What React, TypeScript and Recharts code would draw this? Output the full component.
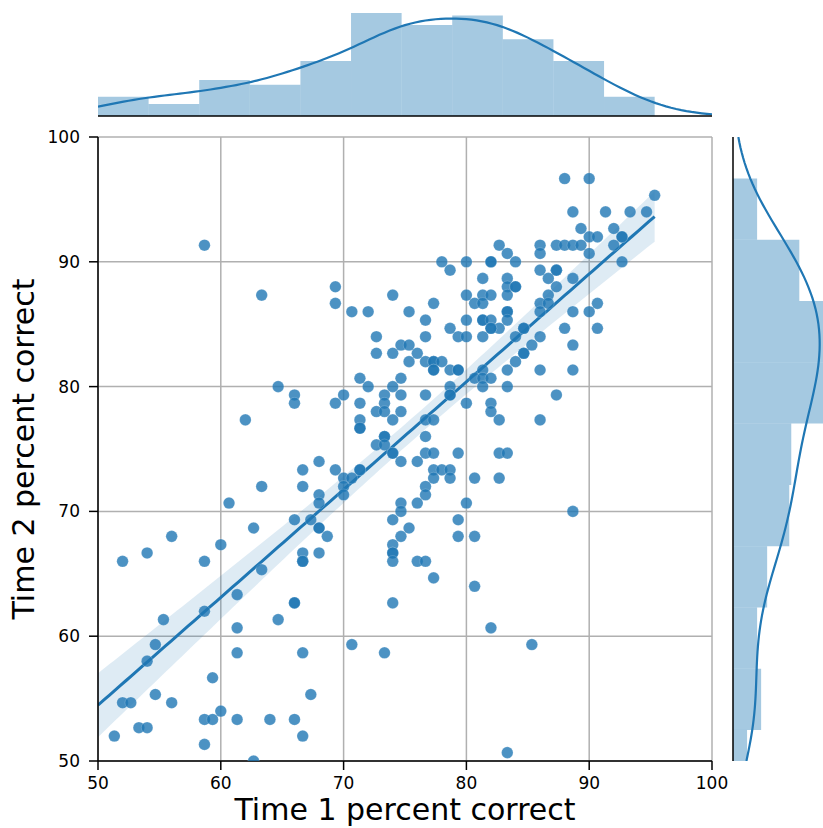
import { ComposedChart, Scatter, Line, Area, XAxis, YAxis, CartesianGrid, ReferenceArea } from 'recharts'

// [time 1 %, time 2 %] for each student
const scorePairs: [number, number][] = [
  [58.67, 91.33], [63.33, 87.33], [88.0, 96.67], [90.0, 96.67], [95.33, 95.33],
  [88.67, 94.0], [91.33, 94.0], [93.33, 94.0], [94.67, 94.0], [89.33, 92.67],
  [92.0, 92.67], [90.0, 92.0], [90.67, 92.0], [92.67, 92.0], [92.67, 92.0],
  [82.67, 91.33], [86.0, 91.33], [87.33, 91.33], [88.0, 91.33], [88.67, 91.33],
  [89.33, 91.33], [92.0, 91.33], [86.0, 90.67], [90.0, 90.67], [83.33, 90.67],
  [92.67, 90.0], [84.0, 90.0], [86.0, 89.33], [87.33, 89.33], [87.33, 89.33],
  [83.33, 88.67], [83.33, 88.0], [83.33, 87.33], [84.0, 88.0], [84.0, 88.0],
  [86.67, 88.67], [87.33, 88.0], [88.67, 88.67], [86.67, 87.33], [86.0, 86.67],
  [86.67, 86.67], [86.0, 86.0], [88.67, 86.0], [90.0, 86.0], [90.67, 86.67],
  [83.33, 86.0], [83.33, 86.0], [83.33, 85.33], [82.67, 84.67], [84.67, 84.67],
  [84.67, 84.67], [84.0, 84.0], [86.0, 84.0], [88.0, 84.67], [90.67, 84.67],
  [88.67, 83.33], [85.33, 83.33],
  [78.0, 90.0], [78.67, 89.33], [80.0, 90.0], [82.0, 90.0], [82.0, 90.0],
  [69.33, 88.0], [69.33, 86.67], [81.33, 88.67], [74.0, 87.33], [80.0, 87.33],
  [81.33, 87.33], [82.0, 87.33], [80.67, 86.67], [81.33, 86.67], [70.67, 86.0],
  [72.0, 86.0], [75.33, 86.0], [77.33, 86.67], [80.0, 85.33], [81.33, 85.33],
  [81.33, 85.33], [82.0, 85.33], [76.67, 85.33], [72.67, 84.0], [74.67, 83.33],
  [75.33, 83.33], [76.67, 84.0], [78.67, 84.67], [79.33, 84.0], [80.0, 84.0],
  [81.33, 84.0], [82.0, 84.67], [82.0, 84.67],
  [64.67, 80.0], [66.0, 79.33], [66.0, 78.67], [62.0, 77.33], [66.67, 73.33],
  [63.33, 72.0], [66.67, 72.0], [60.67, 70.67], [66.0, 69.33], [62.67, 68.67],
  [56.0, 68.0], [60.0, 67.33], [54.0, 66.67],
  [72.67, 82.67], [74.0, 82.67], [76.0, 82.67], [75.33, 82.0], [76.67, 82.0],
  [77.33, 82.0], [77.33, 82.0], [78.0, 82.0], [77.33, 81.33], [77.33, 81.33],
  [78.67, 81.33], [79.33, 81.33], [79.33, 81.33], [81.33, 81.33], [80.67, 80.67],
  [81.33, 80.67], [82.0, 80.67], [83.33, 81.33], [83.33, 80.0], [81.33, 80.0],
  [71.33, 80.67], [72.0, 80.0], [74.0, 80.0], [74.67, 80.67], [70.0, 79.33],
  [69.33, 78.67], [71.33, 78.67], [73.33, 79.33], [73.33, 78.67], [74.67, 79.33],
  [76.67, 79.33], [78.67, 80.0], [78.67, 79.33], [78.67, 79.33], [80.0, 78.67],
  [82.0, 78.67], [82.0, 78.0], [82.67, 77.33], [72.67, 78.0], [73.33, 78.0],
  [74.67, 78.0], [74.0, 77.33], [71.33, 77.33], [71.33, 76.67], [71.33, 76.67],
  [76.67, 77.33], [77.33, 77.33], [73.33, 76.0], [73.33, 76.0], [76.67, 76.0],
  [72.67, 75.33], [73.33, 75.33], [74.0, 74.67], [74.0, 74.67], [74.67, 74.0],
  [76.0, 74.0], [76.67, 74.67], [77.33, 74.67], [79.33, 74.67], [82.67, 74.67],
  [83.33, 74.67], [77.33, 73.33], [78.0, 73.33], [78.67, 73.33], [77.33, 72.67],
  [78.67, 72.67], [80.67, 72.67], [82.67, 72.67], [76.67, 72.0], [76.67, 71.33],
  [76.0, 70.67], [80.0, 70.67], [74.67, 70.67], [74.67, 70.0], [74.0, 69.33],
  [75.33, 68.67], [74.67, 68.0], [74.0, 67.33], [79.33, 69.33], [79.33, 68.0],
  [80.67, 68.0], [68.0, 74.0], [69.33, 73.33], [70.0, 72.67], [70.67, 72.67],
  [71.33, 73.33], [71.33, 73.33], [70.0, 72.0], [70.0, 71.33], [68.0, 71.33],
  [68.0, 70.67], [67.33, 69.33], [68.0, 68.67], [68.0, 68.67], [68.67, 68.0],
  [68.0, 66.67], [74.0, 66.67], [74.0, 66.67], [74.0, 66.0], [76.0, 66.0],
  [76.67, 66.0], [77.33, 64.67], [80.67, 64.0], [74.0, 62.67], [82.0, 60.67],
  [70.67, 59.33], [73.33, 58.67], [83.33, 50.67], [85.33, 59.33],
  [52.0, 66.0], [58.67, 66.0], [63.33, 65.33], [61.33, 63.33], [66.0, 62.67],
  [66.0, 62.67], [64.67, 61.33], [66.67, 66.67], [66.67, 66.0], [66.67, 66.0],
  [55.33, 61.33], [58.67, 62.0], [54.67, 59.33], [54.0, 58.0], [61.33, 60.67],
  [61.33, 58.67], [66.67, 58.67], [59.33, 56.67], [52.0, 54.67], [52.67, 54.67],
  [54.67, 55.33], [56.0, 54.67], [60.0, 54.0], [58.67, 53.33], [59.33, 53.33],
  [61.33, 53.33], [64.0, 53.33], [66.0, 53.33], [67.33, 55.33], [53.33, 52.67],
  [54.0, 52.67], [51.33, 52.0], [58.67, 51.33], [66.67, 52.0], [62.67, 50.0],
  [84.67, 82.67], [84.67, 82.67], [84.0, 82.0], [86.0, 81.33], [88.67, 81.33],
  [87.33, 79.33], [86.0, 77.33], [88.67, 70.0],
  [50.0, 42.67],
]

const TICKS = [50, 60, 70, 80, 90, 100]

// marginal histograms (counts per bin)
const time1Bins = [8, 5, 15, 13, 23, 43, 38, 42, 32, 23, 8]
const time1BinRange = [50, 95.33]
const time2Bins = [1, 7, 14, 12, 17, 28, 29, 48, 49, 33, 12]
const time2BinRange = [42.67, 96.67]

const BLUE = '#1f77b4'
const FONT = 'DejaVu Sans, sans-serif'

const xs = scorePairs.map((p) => p[0])
const ys = scorePairs.map((p) => p[1])
const n = xs.length
const mean = (a: number[]) => a.reduce((s, v) => s + v, 0) / a.length
const xBar = mean(xs)
const yBar = mean(ys)
const sxx = xs.reduce((s, v) => s + (v - xBar) ** 2, 0)
const sxy = xs.reduce((s, v, i) => s + (v - xBar) * (ys[i] - yBar), 0)
const slope = sxy / sxx
const icept = yBar - slope * xBar
const resid = Math.sqrt(xs.reduce((s, v, i) => s + (ys[i] - icept - slope * v) ** 2, 0) / (n - 2))

const xMin = Math.min(...xs)
const xMax = Math.max(...xs)
const fitData = Array.from({ length: 100 }, (_, i) => {
  const x = xMin + ((xMax - xMin) * i) / 99
  const y = icept + slope * x
  const se = resid * Math.sqrt(1 / n + (x - xBar) ** 2 / sxx)
  return { x, y, band: [y - 1.97 * se, y + 1.97 * se] }
})

const points = scorePairs.map(([x, y]) => ({ x, y }))

// gaussian kde, scott bandwidth (statsmodels flavour)
function kde(vals: number[], grid: number[]) {
  const m = mean(vals)
  const sd = Math.sqrt(vals.reduce((s, v) => s + (v - m) ** 2, 0) / (vals.length - 1))
  const sorted = [...vals].sort((a, b) => a - b)
  const q = (p: number) => sorted[Math.floor(p * (sorted.length - 1))]
  const iqr = (q(0.75) - q(0.25)) / 1.349
  const bw = 1.059 * Math.min(sd, iqr) * Math.pow(vals.length, -0.2)
  return grid.map((g) => {
    let s = 0
    for (const v of vals) s += Math.exp(-0.5 * ((g - v) / bw) ** 2)
    return s / (vals.length * bw * Math.sqrt(2 * Math.PI))
  })
}

const grid = Array.from({ length: 121 }, (_, i) => 50 + (50 * i) / 120)
const topKde = kde(xs, grid).map((d, i) => ({ x: grid[i], d }))
const rightKde = kde(ys, grid).map((d, i) => ({ y: grid[i], d }))

function histRects(counts: number[], range: number[]) {
  const total = counts.reduce((s, v) => s + v, 0)
  const w = (range[1] - range[0]) / counts.length
  return counts.map((c, i) => ({ lo: range[0] + i * w, hi: range[0] + (i + 1) * w, dens: c / (total * w) }))
}
const topRects = histRects(time1Bins, time1BinRange)
const rightRects = histRects(time2Bins, time2BinRange)

const axisLine = { stroke: '#000', strokeWidth: 1.5 }
const tickStyle = { fill: '#000', fontSize: 17, fontFamily: FONT }

const dot = (props: any) => (
  <circle cx={props.cx} cy={props.cy} r={5.8} fill={BLUE} fillOpacity={0.8} stroke="#fff" strokeOpacity={0.3} strokeWidth={0.6} />
)

export default function App() {
  return (
    <div style={{ position: 'absolute', left: 0, top: 0, width: 823, height: 828, background: '#fff', overflow: 'hidden' }}>
      {/* top marginal */}
      <div style={{ position: 'absolute', left: 0, top: 0 }}>
        <ComposedChart width={823} height={137} margin={{ top: 0, right: 111, bottom: 0, left: 98 }}>
          <XAxis type="number" dataKey="x" domain={[50, 100]} ticks={TICKS} allowDataOverflow height={21}
            tick={false} tickSize={8} axisLine={axisLine} tickLine={axisLine} />
          <YAxis type="number" hide domain={[0, 0.047]} allowDataOverflow />
          {topRects.map((r, i) => (
            <ReferenceArea key={i} x1={r.lo} x2={r.hi} y1={0} y2={r.dens} fill={BLUE} fillOpacity={0.4}
              stroke="none" ifOverflow="hidden" />
          ))}
          <Line data={topKde} dataKey="d" stroke={BLUE} strokeWidth={2.2} dot={false} isAnimationActive={false} />
        </ComposedChart>
      </div>

      {/* right marginal */}
      <div style={{ position: 'absolute', left: 712, top: 0 }}>
        <ComposedChart width={111} height={828} margin={{ top: 137, right: 0, bottom: 67, left: 0 }}>
          <XAxis type="number" dataKey="d" hide domain={[0, 0.0365]} allowDataOverflow />
          <YAxis type="number" dataKey="y" domain={[50, 100]} ticks={TICKS} allowDataOverflow width={21}
            tick={false} tickSize={8} axisLine={axisLine} tickLine={axisLine} />
          {rightRects.map((r, i) => (
            <ReferenceArea key={i} x1={0} x2={r.dens} y1={r.lo} y2={r.hi} fill={BLUE} fillOpacity={0.4}
              stroke="none" ifOverflow="hidden" />
          ))}
          <Line data={rightKde} dataKey="y" stroke={BLUE} strokeWidth={2.2} dot={false} isAnimationActive={false} />
        </ComposedChart>
      </div>

      {/* joint plot */}
      <div style={{ position: 'absolute', left: 0, top: 0 }}>
        <ComposedChart width={823} height={828} margin={{ top: 137, right: 111, bottom: 0, left: 0 }}>
          <CartesianGrid stroke="#b0b0b0" strokeWidth={1.5} />
          <XAxis type="number" dataKey="x" domain={[50, 100]} ticks={TICKS} allowDataOverflow height={67}
            tickSize={9} tickMargin={7} axisLine={axisLine} tickLine={axisLine} tick={tickStyle} />
          <YAxis type="number" dataKey="y" domain={[50, 100]} ticks={TICKS} allowDataOverflow width={98}
            tickSize={9} tickMargin={9} axisLine={axisLine} tickLine={axisLine} tick={tickStyle} />
          <Scatter data={points} shape={dot} isAnimationActive={false} />
          <Area data={fitData} dataKey="band" type="linear" fill={BLUE} fillOpacity={0.15} stroke="none"
            isAnimationActive={false} />
          <Line data={fitData} dataKey="y" type="linear" stroke={BLUE} strokeWidth={3} dot={false}
            isAnimationActive={false} />
        </ComposedChart>
      </div>

      <svg width={823} height={828} style={{ position: 'absolute', left: 0, top: 0, pointerEvents: 'none' }}>
        <text x={405} y={820} textAnchor="middle" fontSize={30} fontFamily={FONT} fill="#000">
          Time 1 percent correct
        </text>
        <text transform="translate(34 449) rotate(-90)" textAnchor="middle" fontSize={30} fontFamily={FONT} fill="#000">
          Time 2 percent correct
        </text>
      </svg>
    </div>
  )
}
